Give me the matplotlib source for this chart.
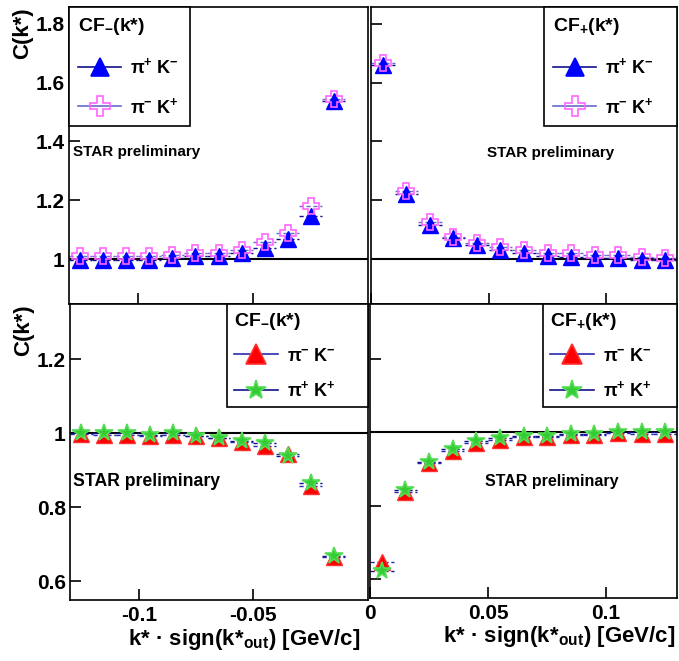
import matplotlib
matplotlib.use('Agg')
import matplotlib.pyplot as plt
from matplotlib.lines import Line2D
import numpy as np

plt.rcParams.update({'font.family': 'Liberation Sans', 'font.weight': 'bold',
                     'mathtext.default': 'regular', 'axes.linewidth': 1.2})

# bin centres
k_neg = [-0.125, -0.115, -0.105, -0.095, -0.085, -0.075, -0.065, -0.055, -0.045, -0.035, -0.025, -0.015]
k_pos = [0.005, 0.015, 0.025, 0.035, 0.045, 0.055, 0.065, 0.075, 0.085, 0.095, 0.105, 0.115, 0.125]

# unlike-sign pairs
pipKm_neg = [0.998, 0.996, 0.998, 0.997, 1.003, 1.011, 1.009, 1.02, 1.038, 1.069, 1.147, 1.537]
pimKp_neg = [1.01, 1.01, 1.01, 1.01, 1.015, 1.02, 1.02, 1.03, 1.058, 1.09, 1.18, 1.545]
pipKm_pos = [1.659, 1.222, 1.117, 1.072, 1.048, 1.031, 1.02, 1.011, 1.008, 1.004, 1.004, 0.998, 0.995]
pimKp_pos = [1.668, 1.23, 1.125, 1.075, 1.055, 1.04, 1.03, 1.02, 1.02, 1.013, 1.013, 1.006, 1.003]

# like-sign pairs
pimKm_neg = [0.997, 0.996, 0.996, 0.993, 0.996, 0.993, 0.986, 0.975, 0.964, 0.943, 0.856, 0.666]
pipKp_neg = [1.0, 1.0, 1.0, 0.995, 1.0, 0.992, 0.988, 0.98, 0.973, 0.939, 0.865, 0.668]
pimKm_pos = [0.646, 0.838, 0.916, 0.950, 0.970, 0.979, 0.986, 0.988, 0.993, 0.993, 0.997, 0.995, 0.995]
pipKp_pos = [0.623, 0.843, 0.920, 0.954, 0.975, 0.984, 0.990, 0.990, 0.995, 0.995, 1.0, 1.0, 1.002]

yt_top = [1, 1.2, 1.4, 1.6, 1.8]
yt_bot = [0.6, 0.8, 1, 1.2]
xt_neg = [-0.1, -0.05]
xt_pos = [0, 0.05, 0.1]

fig = plt.figure(figsize=(6.79, 6.61), dpi=100)
ax_tl = fig.add_axes([0.1016, 0.5401, 0.4404, 0.4493])
ax_tr = fig.add_axes([0.5464, 0.5401, 0.4507, 0.4493])
ax_bl = fig.add_axes([0.1031, 0.0923, 0.4389, 0.4478])
ax_br = fig.add_axes([0.5449, 0.0953, 0.4522, 0.4448])

MS = 11


def draw(ax, x, y1, y2, c1, c2):
    # dashed bin-width bars behind the markers
    e1 = ax.errorbar(x, y1, xerr=0.005, fmt='none', ecolor=c1['line'], elinewidth=1, zorder=2)
    e2 = ax.errorbar(x, y2, xerr=0.005, fmt='none', ecolor=c2['line'], elinewidth=1, zorder=2)
    for e in (e1, e2):
        for lc in e[2]:
            lc.set_linestyle((0, (3, 2)))
    ax.plot(x, y1, linestyle='none', marker=c1['m'], ms=c1['ms'], mfc=c1['fc'], mec=c1['ec'], zorder=3)
    ax.plot(x, y2, linestyle='none', marker=c2['m'], ms=c2['ms'], mfc=c2['fc'], mec=c2['ec'], mew=1.2, zorder=4)
    ax.axhline(1, color='black', lw=1.5, zorder=1)


blue_tri = dict(m='^', ms=MS, fc='#0000ff', ec='#0000ff', line='#10108a')
pink_plus = dict(m='P', ms=MS + 1, fc='none', ec='#ff66ff', line='#6a6acd')
red_tri = dict(m='^', ms=MS + 1, fc='#ff0000', ec='#ff3030', line='#2a2ab0')
green_star = dict(m='*', ms=MS + 2, fc='#33cc33', ec='#55dd55', line='#10108a')

draw(ax_tl, k_neg, pipKm_neg, pimKp_neg, blue_tri, pink_plus)
draw(ax_tr, k_pos, pipKm_pos, pimKp_pos, blue_tri, pink_plus)
draw(ax_bl, k_neg, pimKm_neg, pipKp_neg, red_tri, green_star)
draw(ax_br, k_pos, pimKm_pos, pipKp_pos, red_tri, green_star)

for ax in (ax_tl, ax_bl):
    ax.set_xlim(-0.13, 0)
for ax in (ax_tr, ax_br):
    ax.set_xlim(0, 0.13)
ax_tl.set_ylim(0.847, 1.857)
ax_tr.set_ylim(0.847, 1.857)
ax_bl.set_ylim(0.549, 1.349)
ax_br.set_ylim(0.549, 1.349)

fmt = lambda v, p: f'{v:g}'
for ax, yt, xt in ((ax_tl, yt_top, xt_neg), (ax_tr, yt_top, xt_pos),
                   (ax_bl, yt_bot, xt_neg), (ax_br, yt_bot, xt_pos)):
    ax.set_yticks(yt)
    ax.set_xticks(xt)
    ax.yaxis.set_major_formatter(fmt)
    ax.xaxis.set_major_formatter(fmt)
    ax.tick_params(direction='in', length=8, width=1.2, labelsize=15, pad=3)
    ax.tick_params(axis='x', pad=4)
    for lab in ax.get_xticklabels() + ax.get_yticklabels():
        lab.set_fontweight('bold')

for ax in (ax_tl, ax_tr):
    ax.tick_params(axis='x', labelbottom=False)
for ax in (ax_tr, ax_br):
    ax.tick_params(axis='y', labelleft=False)

for ax in (ax_tl, ax_bl):
    ax.set_ylabel('C(k*)', loc='top', fontsize=16, fontweight='bold', labelpad=2)
for ax, lx in ((ax_bl, 0.975), (ax_br, 0.995)):
    ax.set_xlabel('k* · sign(k*$_{out}$) [GeV/c]', loc='right', fontsize=16,
                  fontweight='bold', labelpad=1)
    ax.xaxis.set_label_coords(lx, -0.09)

star_pos = ((ax_tl, 0.013, 0.512, 11), (ax_tr, 0.379, 0.508, 11),
            (ax_bl, 0.01, 0.399, 12.7), (ax_br, 0.375, 0.395, 11.5))
for ax, tx, ty, fs in star_pos:
    ax.text(tx, ty, 'STAR preliminary', transform=ax.transAxes, fontsize=fs,
            fontweight='bold', va='center', ha='left')


def legend(ax, title, styles, labels, x0, y0, x1=1.0, sp=1.1, bp=0.5):
    handles = [Line2D([], [], color=s['line'], lw=1.2, marker=s['m'], ms=s['ms'] + 2,
                      mfc=s['fc'], mec=s['ec'], mew=1.2) for s in styles]
    leg = ax.legend(handles, labels, title=title, loc='upper left',
                    bbox_to_anchor=(x0, y0, x1 - x0, 1 - y0), mode='expand',
                    borderaxespad=0, fancybox=False, edgecolor='black', framealpha=1,
                    prop={'size': 13, 'weight': 'bold'},
                    title_fontproperties={'size': 14, 'weight': 'bold'},
                    handlelength=2.4, labelspacing=sp, borderpad=bp, handletextpad=0.5)
    leg._legend_box.align = 'left'
    leg.get_frame().set_linewidth(1.2)
    leg.set_zorder(10)


legend(ax_tl, 'CF$_{-}$(k*)', [blue_tri, pink_plus],
       ['π$^{+}$ K$^{-}$', 'π$^{-}$ K$^{+}$'], 0, 0.613, 0.405)
legend(ax_tr, 'CF$_{+}$(k*)', [blue_tri, pink_plus],
       ['π$^{+}$ K$^{-}$', 'π$^{-}$ K$^{+}$'], 0.565, 0.609)
legend(ax_bl, 'CF$_{-}$(k*)', [red_tri, green_star],
       ['π$^{-}$ K$^{-}$', 'π$^{+}$ K$^{+}$'], 0.527, 0.639, sp=0.85, bp=0.4)
legend(ax_br, 'CF$_{+}$(k*)', [red_tri, green_star],
       ['π$^{-}$ K$^{-}$', 'π$^{+}$ K$^{+}$'], 0.5635, 0.626, sp=0.85, bp=0.4)

fig.savefig('out.png', dpi=100)
